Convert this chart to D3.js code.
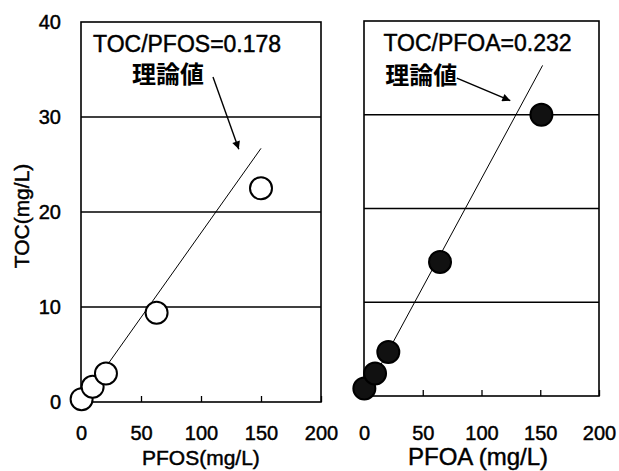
<!DOCTYPE html>
<html>
<head>
<meta charset="utf-8">
<script src="https://cdn.jsdelivr.net/npm/d3@7"></script>
<style>
  body { margin: 0; background: #fff; }
  svg text { font-family: "Liberation Sans", Arial, "Noto Sans CJK JP", sans-serif; fill: #000; stroke: #000; stroke-width: 0.45px; }
  svg text.kanji { stroke: none; }
</style>
</head>
<body>
<div id="chart"></div>
<script>
// ----- data -----
const pfosConc = [0.5, 9.7, 20.8, 63, 150];
const pfosToc  = [0.3, 1.6, 3.0, 9.4, 22.5];
const pfoaConc = [0.3, 9.4, 20.7, 64.7, 151];
const pfoaToc  = [0.8, 2.4, 4.7, 14.3, 30.0];
const xTicks = [0, 50, 100, 150, 200];
const yTicks = [0, 10, 20, 30, 40];
const gridValues = [10, 20, 30];
const ratioLabels = ["TOC/PFOS=0.178", "TOC/PFOA=0.232"];
const ratios = [0.178, 0.232];
const theoryEnd = [150, 152];
const xTitles = ["PFOS(mg/L)", "PFOA (mg/L)"];

const W = 619, H = 471;

const svg = d3.select("#chart").append("svg")
  .attr("width", W)
  .attr("height", H);

svg.append("defs").append("marker")
  .attr("id", "arrow")
  .attr("viewBox", "0 0 10 10")
  .attr("refX", 10).attr("refY", 5)
  .attr("markerUnits", "userSpaceOnUse")
  .attr("markerWidth", 12).attr("markerHeight", 8)
  .attr("orient", "auto")
  .append("path")
  .attr("d", "M0,0L10,5L0,10z")
  .attr("fill", "#000");

// panel layout + annotation positions (in data units)
const panels = [
  {
    xs: pfosConc, ys: pfosToc, ratio: ratios[0], end: theoryEnd[0],
    xr: [81, 321], yr: [402, 22], filled: false,
    label: ratioLabels[0], title: xTitles[0], titleX: 142, titleSize: 21,
    textAt: [10, 36.8], kanjiAt: [42.5, 33.6],
    arrow: [[110, 34.2], [131.5, 26.6]]
  },
  {
    xs: pfoaConc, ys: pfoaToc, ratio: ratios[1], end: theoryEnd[1],
    xr: [364, 599], yr: [396, 21], filled: true,
    label: ratioLabels[1], title: xTitles[1], titleX: 408, titleSize: 24,
    textAt: [16.5, 36.8], kanjiAt: [18, 33.3],
    arrow: [[79, 33.9], [124.5, 31.5]]
  }
];

panels.forEach((p, i) => {
  const x = d3.scaleLinear().domain([0, 200]).range(p.xr);
  const y = d3.scaleLinear().domain([0, 40]).range(p.yr);
  const g = svg.append("g");

  // horizontal grid
  g.selectAll(".grid")
    .data(gridValues)
    .enter().append("line")
    .attr("x1", p.xr[0]).attr("x2", p.xr[1])
    .attr("y1", d => y(d)).attr("y2", d => y(d))
    .attr("stroke", "#000")
    .attr("stroke-width", 1.3);

  // bottom axis with inward ticks; labels sit on one baseline for both panels
  const xAxis = g.append("g")
    .attr("transform", `translate(0,${p.yr[0]})`)
    .call(d3.axisBottom(x).tickValues(xTicks).tickSizeInner(-6).tickSizeOuter(0).tickPadding(426 - p.yr[0]))
    .attr("font-family", null)
    .attr("font-size", null);
  xAxis.select(".domain").remove();
  xAxis.selectAll("line").attr("stroke-width", 1.3);
  xAxis.selectAll("text").style("font-size", "20px");

  if (i === 0) {
    const yAxis = g.append("g")
      .attr("transform", `translate(${p.xr[0]},0)`)
      .call(d3.axisLeft(y).tickValues(yTicks).tickSize(0).tickPadding(20))
      .attr("font-family", null)
      .attr("font-size", null);
    yAxis.select(".domain").remove();
    yAxis.selectAll("text").style("font-size", "20px");
  }

  // frame
  g.append("rect")
    .attr("x", p.xr[0]).attr("y", p.yr[1])
    .attr("width", p.xr[1] - p.xr[0])
    .attr("height", p.yr[0] - p.yr[1])
    .attr("fill", "none")
    .attr("stroke", "#000")
    .attr("stroke-width", 1.6);

  // theoretical line
  const line = d3.line().x(d => x(d[0])).y(d => y(d[1]));
  g.append("path")
    .attr("d", line([[0, 0], [p.end, p.end * p.ratio]]))
    .attr("fill", "none")
    .attr("stroke", "#000")
    .attr("stroke-width", 1);

  // measured points
  g.selectAll(".pt")
    .data(p.xs.map((v, k) => [v, p.ys[k]]))
    .enter().append("circle")
    .attr("cx", d => x(d[0]))
    .attr("cy", d => y(d[1]))
    .attr("r", 11)
    .attr("fill", p.filled ? "#111" : "#fff")
    .attr("stroke", "#000")
    .attr("stroke-width", 2);

  // annotation
  g.append("text")
    .attr("x", x(p.textAt[0])).attr("y", y(p.textAt[1]))
    .style("font-size", "23px")
    .text(p.label);
  g.append("text")
    .attr("class", "kanji")
    .attr("x", x(p.kanjiAt[0])).attr("y", y(p.kanjiAt[1]))
    .style("font-family", "'Noto Sans CJK JP', sans-serif")
    .style("font-weight", "bold")
    .style("font-size", "24px")
    .text("理論値");
  g.append("path")
    .attr("d", line(p.arrow))
    .attr("stroke", "#000")
    .attr("stroke-width", 1.4)
    .attr("marker-end", "url(#arrow)");

  // x title
  svg.append("text")
    .attr("x", p.titleX).attr("y", 465)
    .style("font-size", p.titleSize + "px")
    .text(p.title);
});

svg.append("text")
  .attr("transform", "translate(29,216) rotate(-90)")
  .attr("text-anchor", "middle")
  .style("font-size", "21px")
  .text("TOC(mg/L)");
</script>
</body>
</html>
